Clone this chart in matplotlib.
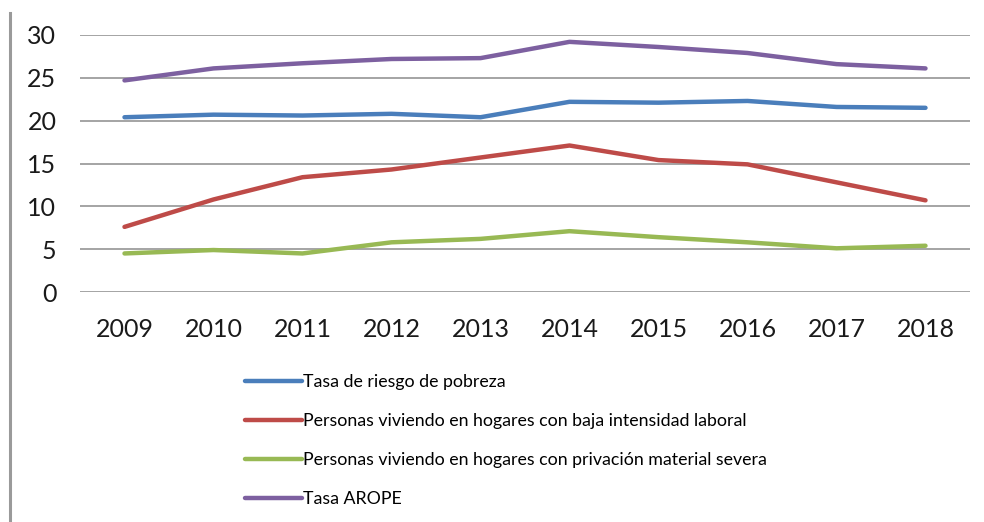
import matplotlib
matplotlib.use("Agg")
import matplotlib.pyplot as plt
from matplotlib.lines import Line2D

years = ["2009", "2010", "2011", "2012", "2013", "2014", "2015", "2016", "2017", "2018"]
pobreza = [20.4, 20.7, 20.6, 20.8, 20.4, 22.2, 22.1, 22.3, 21.6, 21.5]
baja_intensidad = [7.6, 10.8, 13.4, 14.3, 15.7, 17.1, 15.4, 14.9, 12.8, 10.7]
privacion = [4.5, 4.9, 4.5, 5.8, 6.2, 7.1, 6.4, 5.8, 5.1, 5.4]
arope = [24.7, 26.1, 26.7, 27.2, 27.3, 29.2, 28.6, 27.9, 26.6, 26.1]

labels = [
    "Tasa de riesgo de pobreza",
    "Personas viviendo en hogares con baja intensidad laboral",
    "Personas viviendo en hogares con privación material severa",
    "Tasa AROPE",
]
colors = ["#4A7EBB", "#BE4B48", "#98B954", "#7D60A0"]
yticks = [0, 5, 10, 15, 20, 25, 30]

plt.rcParams['font.family'] = ['Lato', 'DejaVu Sans']

fig = plt.figure(figsize=(9.84, 5.22), dpi=100)
ax = fig.add_axes([80/984, 1-292/522, 890/984, 257/522])

x = list(range(len(years)))
series = [pobreza, baja_intensidad, privacion, arope]
for s, c, l in zip(series, colors, labels):
    ax.plot(x, s, color=c, lw=3.2, label=l, solid_capstyle='round', solid_joinstyle='round', zorder=3)

ax.set_xlim(-0.5, len(years) - 0.5)
ax.set_ylim(0, 30)
ax.set_yticks(yticks)
ax.set_yticklabels([str(v) for v in yticks], fontsize=18, color="#1a1a1a")
ax.set_xticks(x)
ax.set_xticklabels(years, fontsize=18, color="#1a1a1a")
ax.tick_params(axis='both', length=0)
ax.tick_params(axis='y', pad=17)
ax.tick_params(axis='x', pad=19)
ax.grid(axis='y', color="#8c8c8c", lw=1.1, zorder=1)
for sp in ax.spines.values():
    sp.set_visible(False)

handles = [Line2D([0], [0], color=c, lw=3.2, solid_capstyle='round') for c in colors]
fig.legend(handles, labels, loc='upper left', bbox_to_anchor=(245/984, 1-374/522),
           frameon=False, fontsize=12.8, handlelength=3.2, handletextpad=0.08,
           labelspacing=1.3, borderaxespad=0, borderpad=0)

fig.add_artist(Line2D([10/984, 10/984], [0, 1-13/522], color="#9a9a9a", lw=2.2,
                      transform=fig.transFigure))

fig.savefig("out.png", dpi=100, facecolor="white")
